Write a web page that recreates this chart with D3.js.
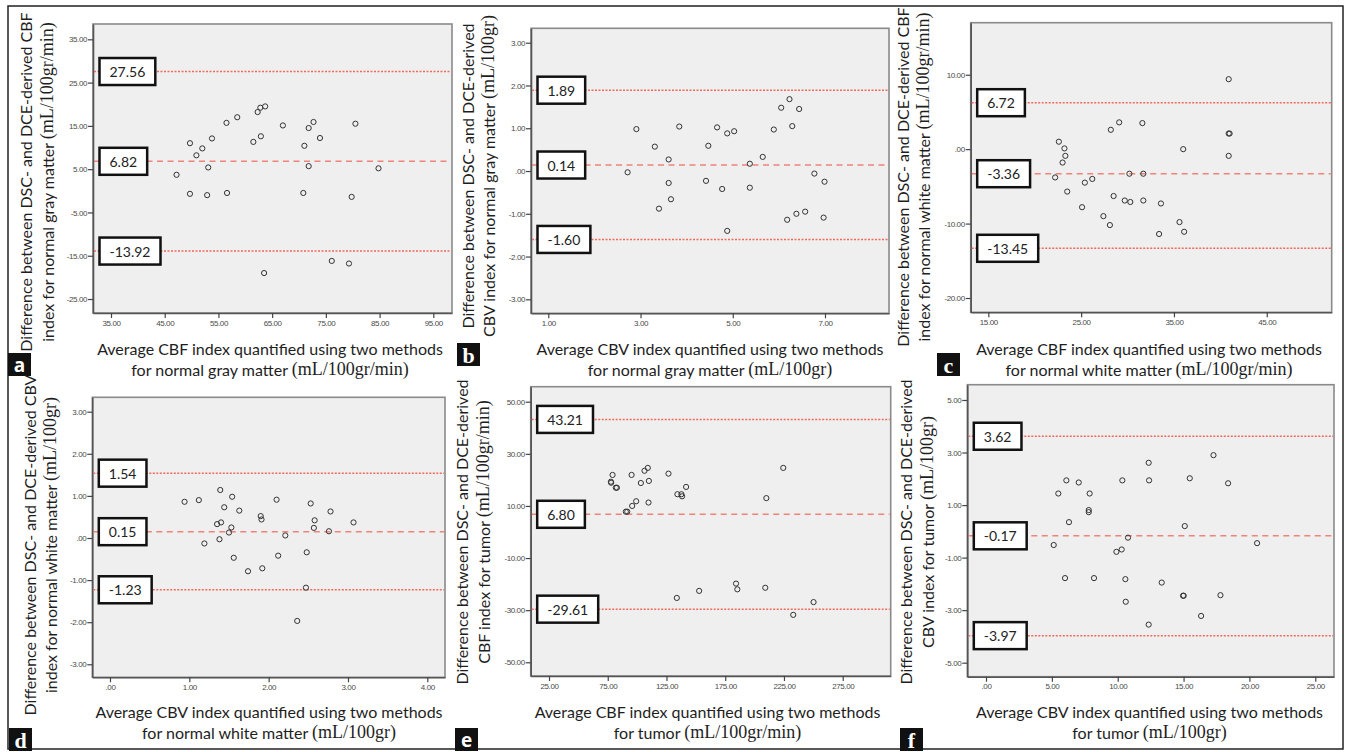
<!DOCTYPE html>
<html>
<head>
<meta charset="utf-8">
<script src="https://cdn.jsdelivr.net/npm/d3@7"></script>
<style>
body { margin: 0; background: #fff; }
svg { display: block; }
</style>
</head>
<body>
<svg id="fig" width="1346" height="752"></svg>
<script>
// a: CBF, normal gray matter
const aX = [47.2, 49.7, 49.7, 50.9, 52.0, 53.1, 52.9, 53.8, 56.5, 56.6, 58.5, 61.5, 62.3, 62.8, 63.7,
    62.9, 63.5, 67.0, 71.0, 70.8, 71.8, 72.7, 71.8, 73.9, 76.1, 79.3, 79.8, 80.5, 84.8];
const aY = [3.7, 11.0, -0.7, 8.2, 9.8, 5.4, -1.0, 12.1, 15.7, -0.5, 17.0, 11.3, 18.2, 19.2, 19.5,
    12.6, -19.0, 15.1, 10.4, -0.5, 14.5, 15.9, 5.7, 12.2, -16.2, -16.8, -1.4, 15.5, 5.2];
const aLimits = [27.56, 6.82, -13.92];
const aXTicks = [35, 45, 55, 65, 75, 85, 95];
const aYTicks = [35, 25, 15, 5, -5, -15, -25];

// b: CBV, normal gray matter
const bX = [2.72, 2.91, 3.31, 3.40, 3.61, 3.61, 3.66, 3.84, 4.42, 4.47, 4.66, 4.77, 4.88, 4.88, 5.03,
    5.37, 5.37, 5.65, 5.89, 6.05, 6.23, 6.29, 6.44, 6.18, 6.38, 6.57, 6.77, 6.99, 6.97];
const bY = [-0.03, 0.98, 0.57, -0.88, 0.27, -0.28, -0.66, 1.04, -0.23, 0.59, 1.02, -0.42, 0.88, -1.40, 0.93,
    0.17, -0.39, 0.33, 0.97, 1.48, 1.68, 1.05, 1.45, -1.14, -1.00, -0.95, -0.06, -0.25, -1.09];
const bLimits = [1.89, 0.14, -1.60];
const bXTicks = [1, 3, 5, 7];
const bYTicks = [3, 2, 1, 0, -1, -2, -3];

// c: CBF, normal white matter
const cX = [22.2, 22.6, 23.2, 23.3, 23.0, 23.5, 25.1, 25.4, 26.2, 27.4, 28.1, 28.2, 28.5, 29.1, 29.7,
    30.2, 30.3, 31.6, 31.7, 31.7, 33.4, 33.6, 35.6, 36.0, 36.1, 40.9, 40.9, 40.9, 41.0];
const cY = [-3.8, 1.0, 0.1, -0.9, -1.8, -5.7, -7.8, -4.5, -4.0, -9.0, -10.2, 2.6, -6.3, 3.6, -6.9,
    -3.3, -7.1, 3.5, -3.3, -6.9, -11.4, -7.3, -9.8, 0.0, -11.1, -0.9, 9.4, 2.1, 2.1];
const cLimits = [6.72, -3.36, -13.45];
// 図上の線は 6.72 より少し下に引かれている
const cLinePos = [6.24, -3.30, -13.32];
const cXTicks = [15, 25, 35, 45];
const cYTicks = [10, 0, -10, -20];

// d: CBV, normal white matter
const dX = [0.94, 1.12, 1.19, 1.35, 1.40, 1.39, 1.38, 1.44, 1.50, 1.53, 1.54, 1.56, 1.63, 1.74, 1.90,
    1.91, 1.92, 2.10, 2.12, 2.21, 2.36, 2.47, 2.48, 2.53, 2.57, 2.58, 2.76, 2.78, 3.07];
const dY = [0.86, 0.90, -0.13, 0.33, 0.37, 1.14, -0.03, 0.73, 0.13, 0.25, 0.98, -0.47, 0.65, -0.79, 0.52,
    0.44, -0.72, 0.91, -0.42, 0.06, -1.97, -1.18, -0.34, 0.82, 0.24, 0.42, 0.16, 0.63, 0.37];
const dLimits = [1.54, 0.15, -1.23];
const dXTicks = [0, 1, 2, 3, 4];
const dYTicks = [3, 2, 1, 0, -1, -2, -3];

// e: CBF, tumor
const eX = [77.7, 77.9, 79.1, 81.9, 82.8, 90.4, 91.6, 95.3, 95.8, 99.2, 103.2, 106.3, 109.1, 110.0, 109.7,
    126.7, 134.3, 137.7, 138.3, 141.7, 133.8, 152.8, 184.2, 185.3, 209.1, 210.0, 224.4, 232.9, 250.2];
const eY = [19.3, 18.9, 21.9, 17.0, 17.0, 7.8, 7.8, 21.9, 10.0, 11.8, 18.8, 23.5, 24.6, 19.6, 11.3,
    22.4, 14.5, 14.5, 13.7, 17.3, -25.3, -22.6, -19.8, -22.0, -21.4, 13.0, 24.6, -31.8, -26.9];
const eLimits = [43.21, 6.80, -29.61];
const eXTicks = [25, 75, 125, 175, 225, 275];
const eYTicks = [50, 30, 10, -10, -30, -50];

// f: CBV, tumor
const fX = [5.14, 5.49, 6.10, 6.30, 6.00, 7.04, 7.80, 7.80, 7.87, 8.20, 9.90, 10.30, 10.35, 10.58, 10.61,
    10.78, 12.35, 12.38, 12.35, 13.34, 14.96, 15.01, 15.09, 15.47, 16.33, 17.27, 17.80, 18.38, 20.58];
const fY = [-0.52, 1.44, 1.94, 0.35, -1.78, 1.86, 0.81, 0.73, 1.44, -1.78, -0.78, -0.69, 1.94, -1.82, -2.68,
    -0.24, 2.61, 1.94, -3.55, -1.95, -2.45, -2.45, 0.20, 2.02, -3.22, 2.90, -2.43, 1.83, -0.45];
const fLimits = [3.62, -0.17, -3.97];
const fXTicks = [0, 5, 10, 15, 20, 25];
const fYTicks = [5, 3, 1, -1, -3, -5];

const yTitles = {
    a: ["Difference between DSC- and DCE-derived CBF", "index for normal gray matter (mL/100gr/min)"],
    b: ["Difference between DSC- and DCE-derived", "CBV index for normal gray matter (mL/100gr)"],
    c: ["Difference between DSC- and DCE-derived CBF", "index for normal white matter (mL/100gr/min)"],
    d: ["Difference between DSC- and DCE-derived CBV", "index for normal white matter (mL/100gr)"],
    e: ["Difference between DSC- and DCE-derived", "CBF index for tumor (mL/100gr/min)"],
    f: ["Difference between DSC- and DCE-derived", "CBV index for tumor (mL/100gr)"],
};
const xTitles = {
    a: ["Average CBF index quantified using two methods", "for normal gray matter (mL/100gr/min)"],
    b: ["Average CBV index quantified using two methods", "for normal gray matter (mL/100gr)"],
    c: ["Average CBF index quantified using two methods", "for normal white matter (mL/100gr/min)"],
    d: ["Average CBV index quantified using two methods", "for normal white matter (mL/100gr)"],
    e: ["Average CBF index quantified using two methods", "for tumor (mL/100gr/min)"],
    f: ["Average CBV index quantified using two methods", "for tumor (mL/100gr)"],
};

// 各パネルの配置
const panels = [
    { id: "a", X: aX, Y: aY, limits: aLimits, xTicks: aXTicks, yTicks: aYTicks,
      rect: [93, 24, 359, 289], xDom: [31.65, 98.48], yDom: [-28.23, 38.54],
      yLab: [25, 47, 182], xLab: [270, 348, 369], tag: [8, 353, "sans"] },
    { id: "b", X: bX, Y: bY, limits: bLimits, xTicks: bXTicks, yTicks: bYTicks,
      rect: [531, 28.3, 358, 285], xDom: [0.625, 8.388], yDom: [-3.327, 3.337],
      yLab: [466.7, 488, 176], xLab: [710, 348, 369], tag: [457, 343, "serif"] },
    { id: "c", X: cX, Y: cY, limits: cLimits, linePos: cLinePos, xTicks: cXTicks, yTicks: cYTicks,
      rect: [970.7, 22.7, 361, 289.6], xDom: [13.1, 52.0], yDom: [-21.92, 16.99],
      yLab: [901.7, 923.3, 177], xLab: [1149, 348, 369], tag: [937, 353, "serif"] },
    { id: "d", X: dX, Y: dY, limits: dLimits, xTicks: dXTicks, yTicks: dYTicks,
      rect: [92.3, 397.3, 352.7, 280], xDom: [-0.223, 4.223], yDom: [-3.309, 3.342],
      yLab: [29, 50, 545], xLab: [269, 710.5, 731.5], tag: [9, 728, "serif"] },
    { id: "e", X: eX, Y: eY, limits: eLimits, xTicks: eXTicks, yTicks: eYTicks,
      rect: [530.7, 386.7, 360, 289.3], xDom: [9.42, 315.86], yDom: [-55.26, 55.76],
      yLab: [461, 482.7, 532], xLab: [707.5, 710.5, 731.5], tag: [455, 728, "sans"] },
    { id: "f", X: fX, Y: fY, limits: fLimits, xTicks: fXTicks, yTicks: fYTicks,
      rect: [967.3, 384.7, 366.7, 292], xDom: [-1.42, 26.42], yDom: [-5.533, 5.582],
      yLab: [905, 926.7, 532], xLab: [1149.5, 710.5, 731.5], tag: [900, 728, "serif"] },
];

const svg = d3.select("#fig");
const SANS = "Lato, 'Open Sans', sans-serif";
const SERIF = "'Liberation Serif', 'DejaVu Serif', serif";
const lineColor = "#f06a5c";

svg.append("rect")
    .attr("x", 8).attr("y", 6)
    .attr("width", 1335).attr("height", 743)
    .attr("fill", "#fff")
    .attr("stroke", "#222")
    .attr("stroke-width", 1.5);

const fmt = d => d === 0 ? ".00" : d.toFixed(2);

// 単位部分 "(mL/...)" はセリフ体
function addTitle(textSel, str) {
    const i = str.indexOf("(");
    textSel.append("tspan").attr("font-family", SANS).text(i >= 0 ? str.slice(0, i) : str);
    if (i >= 0) {
        textSel.append("tspan")
            .attr("font-family", SERIF)
            .attr("font-size", 18)
            .text(str.slice(i));
    }
}

panels.forEach(p => {
    const [px, py, pw, ph] = p.rect;
    const xScale = d3.scaleLinear().domain(p.xDom).range([px, px + pw]);
    const yScale = d3.scaleLinear().domain(p.yDom).range([py + ph, py]);
    const linePos = p.linePos || p.limits;
    const g = svg.append("g").attr("class", "panel panel-" + p.id);

    g.append("rect")
        .attr("x", px).attr("y", py)
        .attr("width", pw).attr("height", ph)
        .attr("fill", "#efefef")
        .attr("stroke", "#8a8a8a")
        .attr("stroke-width", 1.6);

    // x軸
    const gx = g.append("g")
        .attr("transform", `translate(0,${py + ph})`)
        .call(d3.axisBottom(xScale).tickValues(p.xTicks).tickFormat(fmt).tickSize(5).tickSizeOuter(0).tickPadding(2));
    // y軸
    const gy = g.append("g")
        .attr("transform", `translate(${px},0)`)
        .call(d3.axisLeft(yScale).tickValues(p.yTicks).tickFormat(fmt).tickSize(5).tickSizeOuter(0).tickPadding(1));
    [gx, gy].forEach(ax => {
        ax.select(".domain").attr("stroke", "#555").attr("stroke-width", 1.6);
        ax.selectAll(".tick line").attr("stroke", "#444").attr("stroke-width", 1.2);
        ax.selectAll(".tick text")
            .attr("fill", "#4a4a4a")
            .attr("font-family", "'Liberation Sans', Arial, sans-serif")
            .attr("font-size", 8)
            .attr("letter-spacing", -0.4);
    });

    // 一致限界と平均差の線
    g.selectAll("line.limit")
        .data(linePos)
        .join("line")
        .attr("class", "limit")
        .attr("x1", px + 1).attr("x2", px + pw - 1)
        .attr("y1", d => yScale(d)).attr("y2", d => yScale(d))
        .attr("stroke", lineColor)
        .attr("stroke-width", 1.5)
        .attr("stroke-dasharray", (d, i) => i === 1 ? "6,4.5" : "2,1.5")
        .attr("opacity", (d, i) => i === 1 ? 0.8 : 1);

    // 点
    g.selectAll("circle")
        .data(p.X.map((x, i) => [x, p.Y[i]]))
        .join("circle")
        .attr("cx", d => xScale(d[0]))
        .attr("cy", d => yScale(d[1]))
        .attr("r", 2.6)
        .attr("fill", "none")
        .attr("stroke", "#333")
        .attr("stroke-width", 1);

    // 値ラベルの箱
    p.limits.forEach((v, i) => {
        const cy = yScale(linePos[i]);
        const bx = px + 6.5;
        const box = g.append("g").attr("class", "limit-label");
        const r = box.append("rect")
            .attr("x", bx).attr("y", cy - 13.5)
            .attr("height", 27)
            .attr("fill", "#fff")
            .attr("stroke", "#111")
            .attr("stroke-width", 2.5);
        const t = box.append("text")
            .attr("x", bx + 10)
            .attr("y", cy)
            .attr("dominant-baseline", "central")
            .attr("font-family", SANS)
            .attr("font-size", 14)
            .attr("fill", "#222")
            .text(v.toFixed(2));
        const tw = t.node().getComputedTextLength();
        r.attr("width", tw + 20);
    });

    // y軸タイトル
    const [lx1, lx2, lcy] = p.yLab;
    [lx1, lx2].forEach((lx, k) => {
        const t = g.append("text")
            .attr("transform", `translate(${lx},${lcy}) rotate(-90)`)
            .attr("text-anchor", "middle")
            .attr("dominant-baseline", "central")
            .attr("font-size", 16)
            .attr("fill", "#1e1e1e");
        addTitle(t, yTitles[p.id][k]);
    });

    // x軸タイトル
    const [tcx, ty1, ty2] = p.xLab;
    [ty1, ty2].forEach((ty, k) => {
        const t = g.append("text")
            .attr("x", tcx).attr("y", ty)
            .attr("text-anchor", "middle")
            .attr("dominant-baseline", "central")
            .attr("font-size", 16)
            .attr("fill", "#1e1e1e");
        addTitle(t, xTitles[p.id][k]);
    });

    // パネル記号
    const [tx, tyy, fam] = p.tag;
    g.append("rect")
        .attr("x", tx).attr("y", tyy)
        .attr("width", 23).attr("height", 23)
        .attr("fill", "#111");
    g.append("text")
        .attr("x", tx + 11.5).attr("y", tyy + 12)
        .attr("text-anchor", "middle")
        .attr("dominant-baseline", "central")
        .attr("font-family", fam === "sans" ? "'Open Sans', sans-serif" : SERIF)
        .attr("font-weight", "bold")
        .attr("font-size", fam === "sans" ? 19 : 22)
        .attr("fill", "#fff")
        .text(p.id);
});
</script>
</body>
</html>
